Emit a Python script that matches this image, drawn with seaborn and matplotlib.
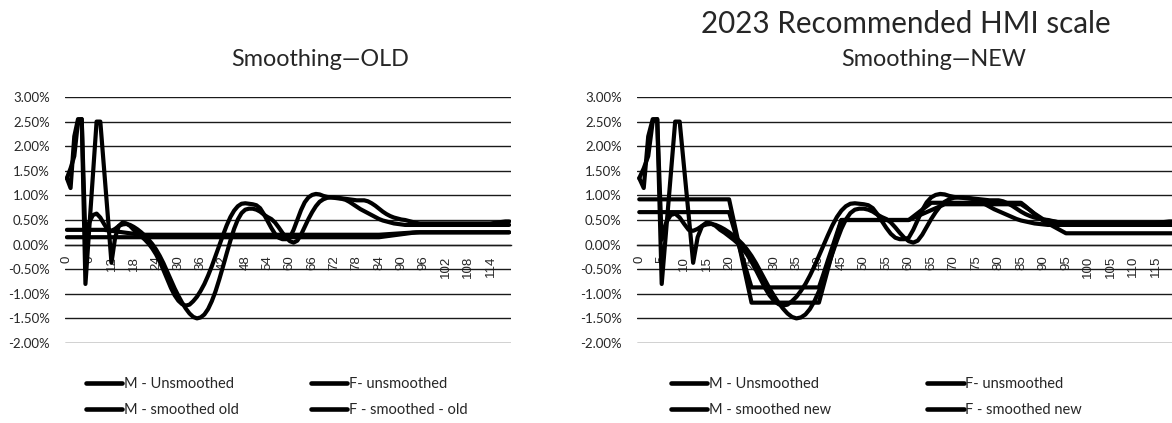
import matplotlib
matplotlib.use("Agg")
import matplotlib.pyplot as plt
from matplotlib.ticker import FixedLocator, FuncFormatter
from matplotlib.lines import Line2D
import pandas as pd
import seaborn as sns

# ages 0..119
ages = list(range(120))

m_unsmoothed = [
    1.35, 1.15, 2.20, 2.55, 2.55, -0.80, 0.30, 1.40, 2.50, 2.50,
    1.55, 0.60, -0.37, 0.15, 0.38, 0.45, 0.43, 0.38, 0.30, 0.24,
    0.17, 0.10, 0.02, -0.08, -0.20, -0.35, -0.52, -0.70, -0.88, -1.03,
    -1.14, -1.21, -1.24, -1.22, -1.15, -1.06, -0.94, -0.80, -0.63, -0.44,
    -0.23, -0.02, 0.19, 0.39, 0.56, 0.69, 0.78, 0.83, 0.84, 0.83,
    0.82, 0.80, 0.74, 0.62, 0.48, 0.34, 0.22, 0.14, 0.11, 0.11,
    0.14, 0.30, 0.50, 0.70, 0.86, 0.96, 1.01, 1.03, 1.02, 0.99,
    0.97, 0.96, 0.95, 0.94, 0.93, 0.91, 0.87, 0.82, 0.77, 0.72,
    0.68, 0.64, 0.60, 0.56, 0.52, 0.49, 0.47, 0.45, 0.43, 0.42,
    0.41, 0.40, 0.40, 0.40, 0.40, 0.40, 0.40, 0.40, 0.40, 0.40,
    0.40, 0.40, 0.40, 0.40, 0.40, 0.40, 0.40, 0.40, 0.40, 0.40,
    0.40, 0.40, 0.40, 0.40, 0.40, 0.40, 0.40, 0.40, 0.40, 0.40,
]

f_unsmoothed = [
    1.35, 1.55, 1.80, 2.50, 2.55, 0.10, 0.45, 0.60, 0.63, 0.55,
    0.42, 0.30, 0.28, 0.32, 0.38, 0.41, 0.42, 0.40, 0.36, 0.31,
    0.25, 0.18, 0.10, 0.01, -0.10, -0.23, -0.38, -0.55, -0.72, -0.89,
    -1.04, -1.18, -1.30, -1.40, -1.47, -1.50, -1.48, -1.42, -1.31, -1.15,
    -0.95, -0.71, -0.45, -0.18, 0.08, 0.32, 0.51, 0.64, 0.71, 0.73,
    0.73, 0.71, 0.67, 0.61, 0.56, 0.52, 0.45, 0.35, 0.24, 0.14,
    0.07, 0.04, 0.08, 0.20, 0.36, 0.52, 0.66, 0.78, 0.87, 0.92,
    0.95, 0.96, 0.96, 0.95, 0.94, 0.93, 0.92, 0.91, 0.90, 0.90,
    0.90, 0.88, 0.84, 0.79, 0.73, 0.67, 0.62, 0.58, 0.55, 0.53,
    0.51, 0.50, 0.48, 0.46, 0.44, 0.43, 0.43, 0.43, 0.43, 0.43,
    0.43, 0.43, 0.43, 0.43, 0.43, 0.43, 0.43, 0.43, 0.43, 0.43,
    0.43, 0.43, 0.43, 0.43, 0.43, 0.44, 0.45, 0.46, 0.47, 0.47,
]

m_smoothed_old = [
    0.30, 0.30, 0.30, 0.30, 0.30, 0.30, 0.30, 0.30, 0.30, 0.30,
    0.30, 0.29, 0.28, 0.27, 0.26, 0.25, 0.24, 0.23, 0.22, 0.21,
    0.20, 0.20, 0.20, 0.20, 0.20, 0.20, 0.20, 0.20, 0.20, 0.20,
    0.20, 0.20, 0.20, 0.20, 0.20, 0.20, 0.20, 0.20, 0.20, 0.20,
    0.20, 0.20, 0.20, 0.20, 0.20, 0.20, 0.20, 0.20, 0.20, 0.20,
    0.20, 0.20, 0.20, 0.20, 0.20, 0.20, 0.20, 0.20, 0.20, 0.20,
    0.20, 0.20, 0.20, 0.20, 0.20, 0.20, 0.20, 0.20, 0.20, 0.20,
    0.20, 0.20, 0.20, 0.20, 0.20, 0.20, 0.20, 0.20, 0.20, 0.20,
    0.20, 0.20, 0.20, 0.20, 0.20, 0.205, 0.21, 0.215, 0.22, 0.225,
    0.23, 0.235, 0.24, 0.245, 0.25, 0.25, 0.25, 0.25, 0.25, 0.25,
    0.25, 0.25, 0.25, 0.25, 0.25, 0.25, 0.25, 0.25, 0.25, 0.25,
    0.25, 0.25, 0.25, 0.25, 0.25, 0.25, 0.25, 0.25, 0.25, 0.25,
]

f_smoothed_old = [
    0.15, 0.15, 0.15, 0.15, 0.15, 0.15, 0.15, 0.15, 0.15, 0.15,
    0.15, 0.15, 0.15, 0.15, 0.15, 0.15, 0.15, 0.15, 0.15, 0.15,
    0.15, 0.15, 0.15, 0.15, 0.15, 0.15, 0.15, 0.15, 0.15, 0.15,
    0.15, 0.15, 0.15, 0.15, 0.15, 0.15, 0.15, 0.15, 0.15, 0.15,
    0.15, 0.15, 0.15, 0.15, 0.15, 0.15, 0.15, 0.15, 0.15, 0.15,
    0.15, 0.15, 0.15, 0.15, 0.15, 0.15, 0.15, 0.15, 0.15, 0.15,
    0.15, 0.15, 0.15, 0.15, 0.15, 0.15, 0.15, 0.15, 0.15, 0.15,
    0.15, 0.15, 0.15, 0.15, 0.15, 0.15, 0.15, 0.15, 0.15, 0.15,
    0.15, 0.15, 0.15, 0.15, 0.15, 0.16, 0.17, 0.18, 0.19, 0.20,
    0.21, 0.22, 0.23, 0.24, 0.245, 0.25, 0.25, 0.25, 0.25, 0.25,
    0.25, 0.25, 0.25, 0.25, 0.25, 0.25, 0.25, 0.25, 0.25, 0.25,
    0.25, 0.25, 0.25, 0.25, 0.25, 0.25, 0.25, 0.25, 0.25, 0.25,
]

m_smoothed_new = [
    0.92, 0.92, 0.92, 0.92, 0.92, 0.92, 0.92, 0.92, 0.92, 0.92,
    0.92, 0.92, 0.92, 0.92, 0.92, 0.92, 0.92, 0.92, 0.92, 0.92,
    0.92, 0.50, 0.08, -0.34, -0.76, -1.18, -1.18, -1.18, -1.18, -1.18,
    -1.18, -1.18, -1.18, -1.18, -1.18, -1.18, -1.18, -1.18, -1.18, -1.18,
    -1.18, -0.84, -0.50, -0.16, 0.17, 0.50, 0.50, 0.50, 0.50, 0.50,
    0.50, 0.50, 0.50, 0.50, 0.50, 0.50, 0.50, 0.50, 0.50, 0.50,
    0.50, 0.57, 0.64, 0.71, 0.78, 0.85, 0.85, 0.85, 0.85, 0.85,
    0.85, 0.85, 0.85, 0.85, 0.85, 0.85, 0.85, 0.85, 0.85, 0.85,
    0.85, 0.85, 0.85, 0.85, 0.85, 0.85, 0.78, 0.70, 0.62, 0.55,
    0.48, 0.43, 0.38, 0.33, 0.28, 0.23, 0.23, 0.23, 0.23, 0.23,
    0.23, 0.23, 0.23, 0.23, 0.23, 0.23, 0.23, 0.23, 0.23, 0.23,
    0.23, 0.23, 0.23, 0.23, 0.23, 0.23, 0.23, 0.23, 0.23, 0.23,
]

f_smoothed_new = [
    0.66, 0.66, 0.66, 0.66, 0.66, 0.66, 0.66, 0.66, 0.66, 0.66,
    0.66, 0.66, 0.66, 0.66, 0.66, 0.66, 0.66, 0.66, 0.66, 0.66,
    0.66, 0.35, 0.04, -0.26, -0.57, -0.87, -0.87, -0.87, -0.87, -0.87,
    -0.87, -0.87, -0.87, -0.87, -0.87, -0.87, -0.87, -0.87, -0.87, -0.87,
    -0.87, -0.60, -0.32, -0.05, 0.23, 0.50, 0.50, 0.50, 0.50, 0.50,
    0.50, 0.50, 0.50, 0.50, 0.50, 0.50, 0.50, 0.50, 0.50, 0.50,
    0.50, 0.54, 0.58, 0.62, 0.66, 0.70, 0.74, 0.78, 0.82, 0.82,
    0.82, 0.82, 0.82, 0.82, 0.82, 0.82, 0.82, 0.82, 0.82, 0.82,
    0.82, 0.82, 0.82, 0.82, 0.82, 0.82, 0.76, 0.70, 0.63, 0.57,
    0.51, 0.49, 0.47, 0.46, 0.45, 0.45, 0.45, 0.45, 0.45, 0.45,
    0.45, 0.45, 0.45, 0.45, 0.45, 0.45, 0.45, 0.45, 0.45, 0.45,
    0.45, 0.45, 0.45, 0.45, 0.45, 0.45, 0.45, 0.45, 0.45, 0.45,
]

y_ticks = [-2.0, -1.5, -1.0, -0.5, 0.0, 0.5, 1.0, 1.5, 2.0, 2.5, 3.0]

main_title = "2023 Recommended HMI scale"
title_old = "Smoothing\u2014OLD"
title_new = "Smoothing\u2014NEW"
labels_old = ["M - Unsmoothed", "F- unsmoothed", "M - smoothed old", "F - smoothed - old"]
labels_new = ["M - Unsmoothed", "F- unsmoothed", "M - smoothed new", "F - smoothed new"]

sns.set_style("white")
plt.rcParams["font.family"] = ["Lato", "DejaVu Sans"]

LINE_W = 3.0
GRID_C = "#1a1a1a"

fig = plt.figure(figsize=(11.72, 4.23), dpi=100)

W, H = 1172.0, 423.0
y_top, y_bot = 97.0, 343.0
ax_old = fig.add_axes([65 / W, 1 - y_bot / H, 446 / W, (y_bot - y_top) / H])
ax_new = fig.add_axes([637 / W, 1 - y_bot / H, 539 / W, (y_bot - y_top) / H])


def draw_panel(ax, series, labels, tick_step):
    frames = []
    for lab, vals in zip(labels, series):
        frames.append(pd.DataFrame({"age": ages, "value": vals, "series": lab}))
    df = pd.concat(frames, ignore_index=True)
    sns.lineplot(data=df, x="age", y="value", hue="series", hue_order=labels,
                 palette=["black"] * 4, linewidth=LINE_W, legend=False,
                 ax=ax, zorder=3)
    for ln in ax.get_lines():
        ln.set_linewidth(LINE_W)
        ln.set_solid_joinstyle("round")
        ln.set_solid_capstyle("round")
    ax.set_xlim(-0.5, 119.5)
    ax.set_ylim(-2.0, 3.0)
    ax.yaxis.set_major_locator(FixedLocator(y_ticks))
    ax.yaxis.set_major_formatter(FuncFormatter(lambda v, p: f"{v:.2f}%"))
    ax.grid(False)
    ax.yaxis.grid(True, color=GRID_C, linewidth=1.0)
    ax.set_axisbelow(True)
    for s in ("top", "right", "left"):
        ax.spines[s].set_visible(False)
    ax.spines["bottom"].set_position(("data", 0))
    ax.spines["bottom"].set_color(GRID_C)
    ax.spines["bottom"].set_linewidth(1.0)
    xt = [a for a in ages if a % tick_step == 0]
    ax.set_xticks(xt)
    ax.set_xticklabels([str(a) for a in xt], rotation=90,
                       family=["Liberation Sans", "DejaVu Sans"], fontsize=9.5)
    ax.tick_params(axis="x", length=0, pad=8)
    ax.tick_params(axis="y", length=0, pad=11, labelsize=9.5)
    ax.set_xlabel("")
    ax.set_ylabel("")


draw_panel(ax_old, [m_unsmoothed, f_unsmoothed, m_smoothed_old, f_smoothed_old],
           labels_old, 6)
draw_panel(ax_new, [m_unsmoothed, f_unsmoothed, m_smoothed_new, f_smoothed_new],
           labels_new, 5)


def add_legend(labels, x_left, colspace):
    handles = [Line2D([], [], color="black", linewidth=LINE_W + 0.3) for _ in labels]
    order = [0, 2, 1, 3]
    fig.legend([handles[i] for i in order], [labels[i] for i in order],
               ncol=2, loc="center left", bbox_to_anchor=(x_left, 1 - 397 / H),
               frameon=False, fontsize=10.5, handlelength=2.5, handletextpad=0.1,
               columnspacing=colspace, labelspacing=0.85, borderpad=0,
               borderaxespad=0)


add_legend(labels_old, 86 / W, 4.95)
add_legend(labels_new, 671 / W, 6.6)

fig.text(320 / W, 1 - 59 / H, title_old, ha="center", va="center", fontsize=16.8)
fig.text(934 / W, 1 - 59 / H, title_new, ha="center", va="center", fontsize=16.8)
fig.text(906 / W, 1 - 24 / H, main_title, ha="center", va="center", fontsize=21.3)

fig.savefig("out.png", dpi=100)
